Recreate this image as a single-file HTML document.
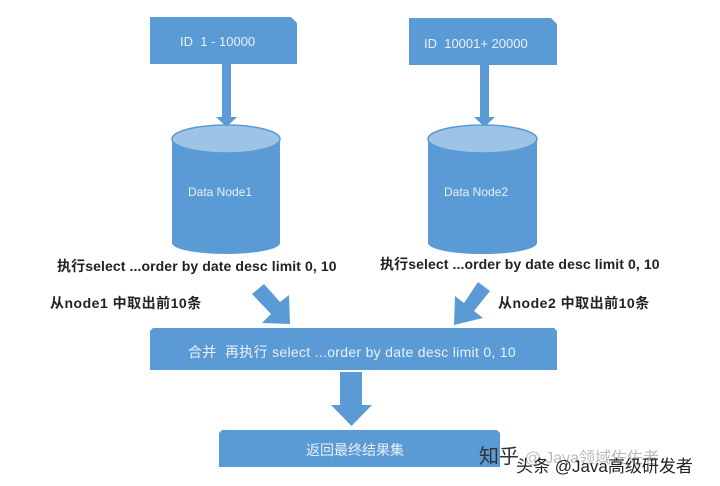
<!DOCTYPE html>
<html><head><meta charset="utf-8"><style>
body{margin:0;background:#fff;width:720px;height:486px;overflow:hidden;position:relative;font-family:"Liberation Sans","Noto Sans CJK SC",sans-serif}
.t{position:absolute;white-space:nowrap}
</style></head><body>
<svg width="720" height="486" style="position:absolute;left:0;top:0">
<g fill="#5b9bd5">
<polygon points="150,17 291,17 297,23 297,64 150,64"/>
<polygon points="409,18 551,18 557,24 557,65 409,65"/>
<rect x="222" y="64" width="9" height="54"/>
<polygon points="216,117 237,117 226.5,127"/>
<rect x="480" y="65" width="9" height="53"/>
<polygon points="474,117 495,117 484.5,127"/>
<path d="M172,139 L172,243 A54,11 0 0 0 280,243 L280,139 Z"/>
<path d="M428,139 L428,243 A54,11 0 0 0 537,243 L537,139 Z"/>
<polygon points="150,331 153,328 554,328 557,331 557,370 150,370"/>
<rect x="340" y="372" width="22" height="34"/>
<polygon points="331,405 372,405 351.5,426"/>
<polygon points="219,433 222,430 497,430 500,433 500,467 219,467"/>
<polygon points="252,294 264,284 280,302 289,295 290,324 262,323 271,314"/>
<polygon points="478,282 490,291 474,311 483,318 454,325 455,296 464,303"/>
</g>
<ellipse cx="226" cy="139" rx="54" ry="14" fill="#9dc3e6" stroke="#5b9bd5" stroke-width="1.5"/>
<ellipse cx="482.5" cy="139" rx="54.5" ry="14" fill="#9dc3e6" stroke="#5b9bd5" stroke-width="1.5"/>
</svg>
<div class="t" style="left:180px;top:34px;color:#e8f0f8;font-size:13px">ID&nbsp; 1 - 10000</div>
<div class="t" style="left:424px;top:36px;color:#e8f0f8;font-size:13px">ID&nbsp; 10001+ 20000</div>
<div class="t" style="left:188px;top:185px;color:#e8f0f8;font-size:12px">Data Node1</div>
<div class="t" style="left:444px;top:185px;color:#e8f0f8;font-size:12px">Data Node2</div>
<div class="t" style="left:57px;top:256px;font-size:14px;font-weight:bold;color:#222;letter-spacing:0.1px">执行select ...order by date desc limit 0, 10</div>
<div class="t" style="left:380px;top:254px;font-size:14px;font-weight:bold;color:#222;letter-spacing:0.1px">执行select ...order by date desc limit 0, 10</div>
<div class="t" style="left:50px;top:293px;font-size:14px;font-weight:bold;color:#222;letter-spacing:0.5px">从node1 中取出前10条</div>
<div class="t" style="left:498px;top:293px;font-size:14px;font-weight:bold;color:#222;letter-spacing:0.5px">从node2 中取出前10条</div>
<div class="t" style="left:188px;top:342px;color:#e8f0f8;font-size:14px;letter-spacing:0.3px">合并&nbsp; 再执行 select ...order by date desc limit 0, 10</div>
<div class="t" style="left:306px;top:440px;color:#e8f0f8;font-size:14px">返回最终结果集</div>
<div class="t" style="left:479px;top:440px;color:#333;font-size:20px">知乎 <span style="color:#bbb;font-size:16px">@ Java领域佐佐者</span></div>
<div class="t" style="left:516px;top:452px;color:#222;font-size:17px">头条 @Java高级研发者</div>
</body></html>
